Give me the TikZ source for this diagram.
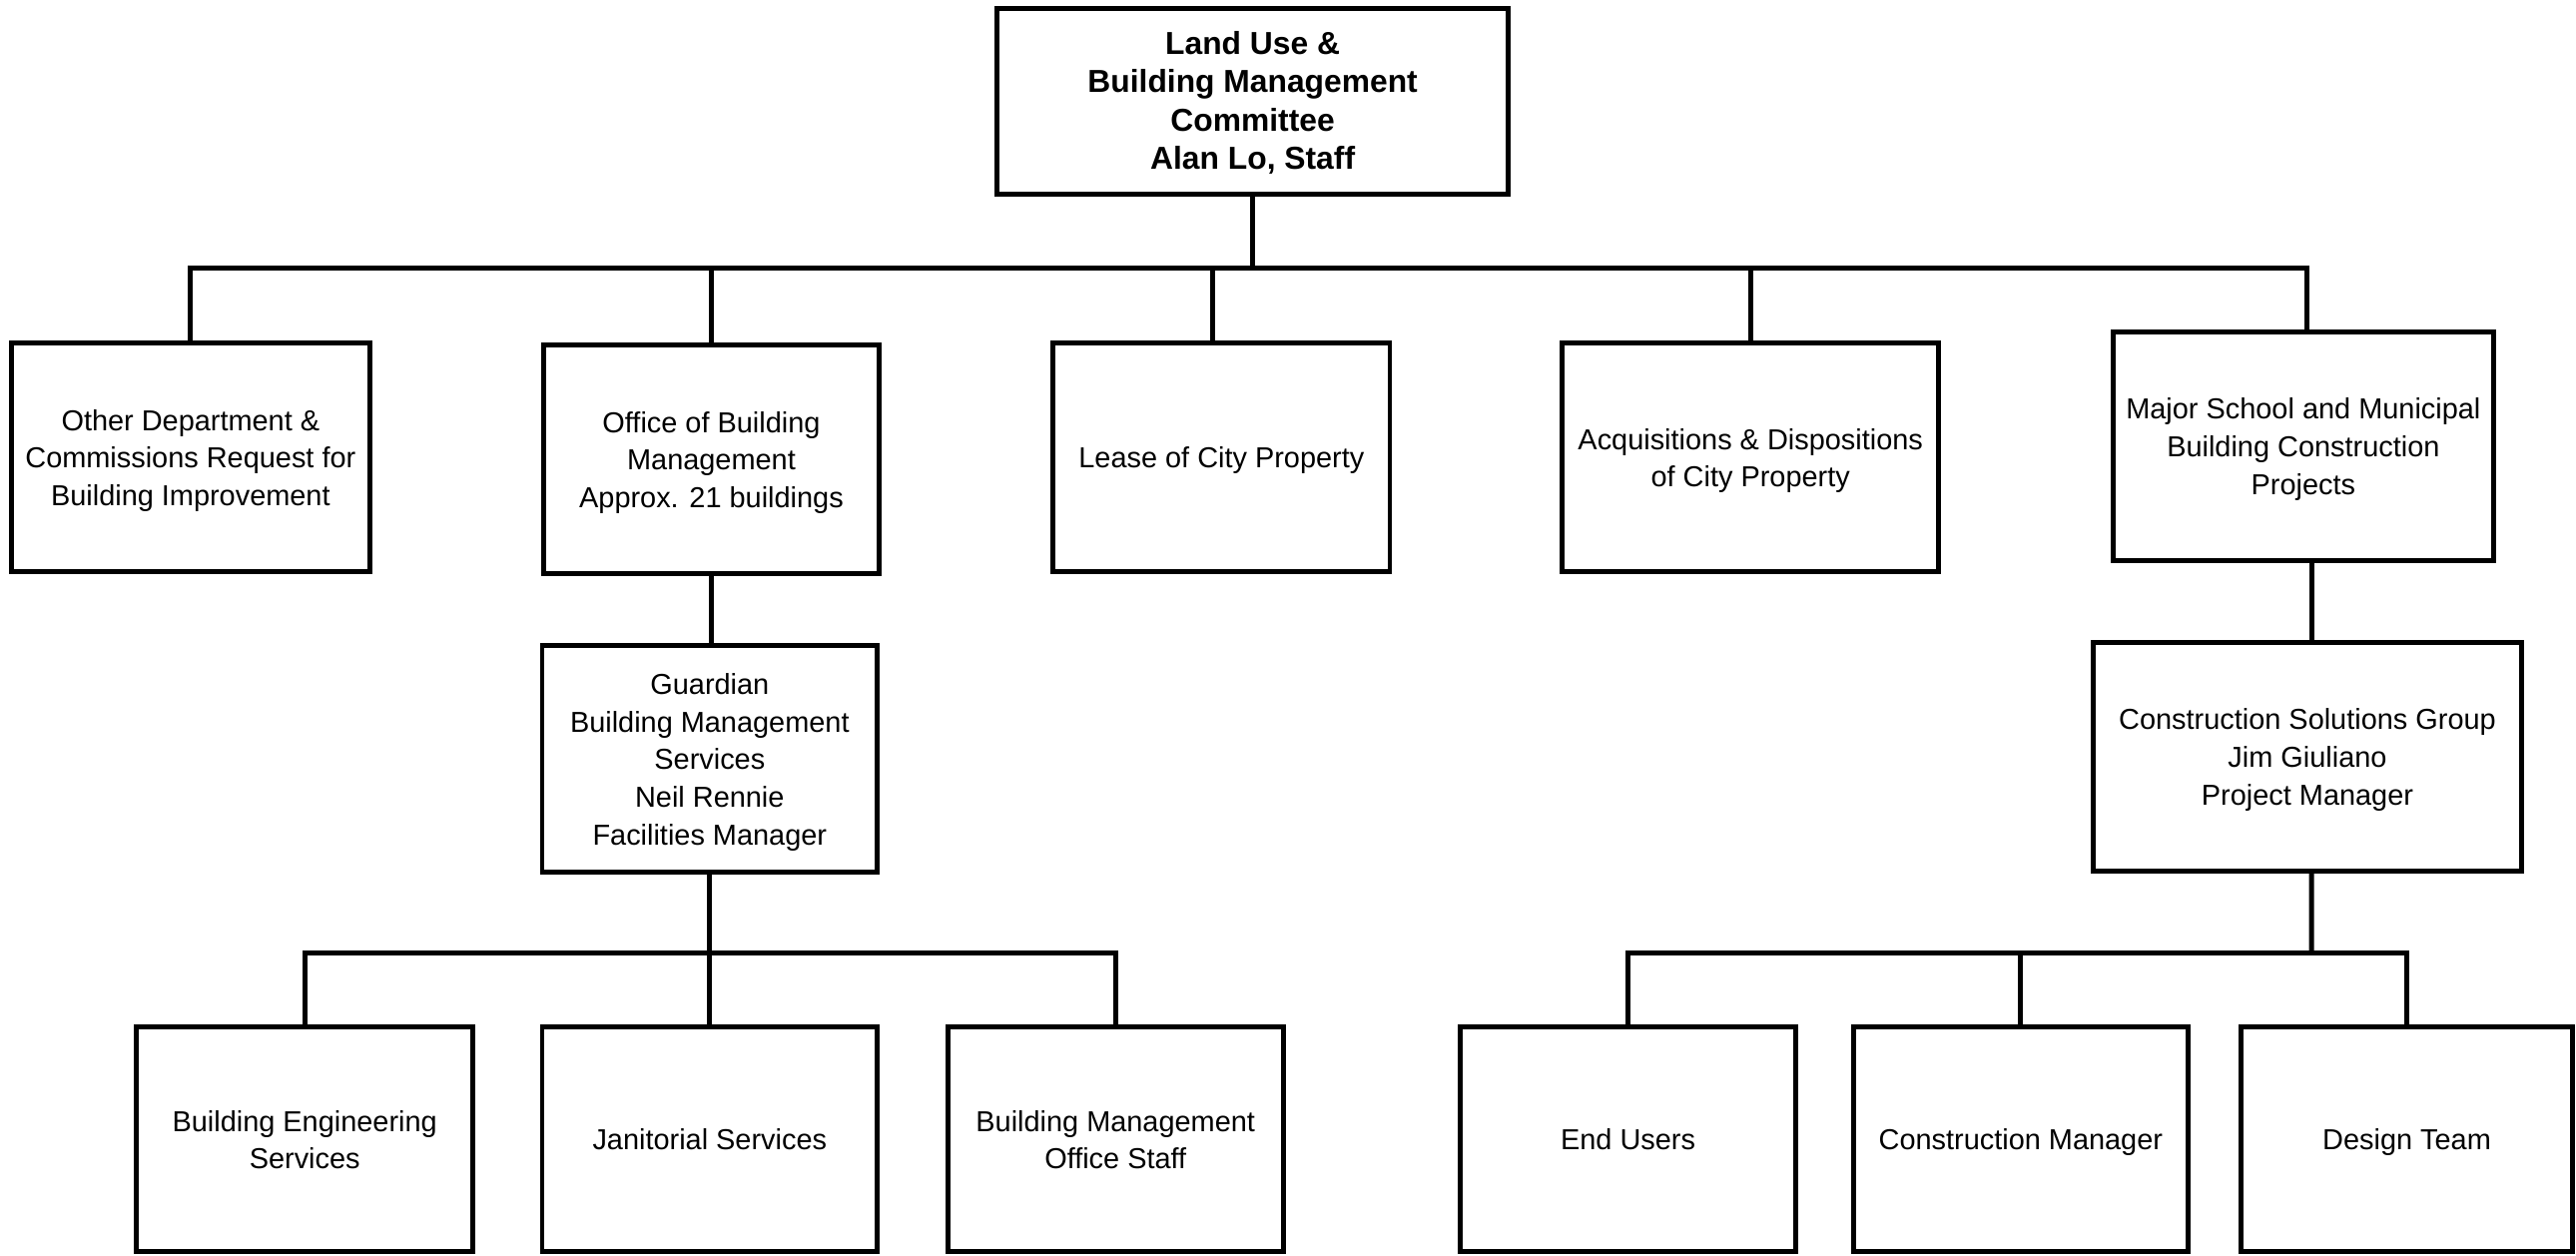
\documentclass[tikz,border=0pt]{standalone}
\usepackage{fontspec}
\setmainfont{Liberation Sans}
\newcommand\boxtext[1]{\raisebox{-1.1pt}[\height][\depth]{\begin{tabular}{@{}c@{}}#1\end{tabular}}}
\begin{document}
\begin{tikzpicture}[x=0.02cm,y=-0.02cm,
  line width=1.7pt,
  orgbox/.style={draw=black, line width=1.7pt, align=center, inner sep=0pt,
    font=\fontsize{10}{13}\selectfont},
  headbox/.style={orgbox, font=\fontsize{11}{13.2}\selectfont\bfseries},
  link/.style={draw=black, line width=1.7pt}]
\useasboundingbox (0,0) rectangle (1568,764);
\fill[white] (0,0) rectangle (1568,764);

\node[headbox, minimum width=6.22cm, minimum height=2.26cm] (top) at (762.5,61.5)
  {\boxtext{Land Use \&\\Building Management\\Committee\\Alan Lo, Staff}};

\node[orgbox, minimum width=4.36cm, minimum height=2.78cm] (A) at (116,278.5)
  {\boxtext{Other Department \&\\Commissions Request for\\Building Improvement}};
\node[orgbox, minimum width=4.08cm, minimum height=2.78cm] (B) at (433,279.5)
  {\boxtext{Office of Building\\Management\\Approx. 21 buildings}};
\node[orgbox, minimum width=4.10cm, minimum height=2.78cm] (C) at (743.5,278.5)
  {\boxtext{Lease of City Property}};
\node[orgbox, minimum width=4.58cm, minimum height=2.78cm] (D) at (1065.5,278.5)
  {\boxtext{Acquisitions \& Dispositions\\of City Property}};
\node[orgbox, minimum width=4.64cm, minimum height=2.78cm] (E) at (1402,271.5)
  {\boxtext{Major School and Municipal\\Building Construction\\Projects}};

\node[orgbox, minimum width=4.08cm, minimum height=2.76cm] (G) at (432,462)
  {\boxtext{Guardian\\Building Management\\Services\\Neil Rennie\\Facilities Manager}};
\node[orgbox, minimum width=5.22cm, minimum height=2.78cm] (CSG) at (1404.5,460.5)
  {\boxtext{Construction Solutions Group\\Jim Giuliano\\Project Manager}};

\node[orgbox, minimum width=4.10cm, minimum height=2.74cm] (L1) at (185.5,693.5)
  {\boxtext{Building Engineering\\Services}};
\node[orgbox, minimum width=4.08cm, minimum height=2.74cm] (L2) at (432,693.5)
  {\boxtext{Janitorial Services}};
\node[orgbox, minimum width=4.08cm, minimum height=2.74cm] (L3) at (679,693.5)
  {\boxtext{Building Management\\Office Staff}};

\node[orgbox, minimum width=4.08cm, minimum height=2.74cm] (R1) at (991,693.5)
  {\boxtext{End Users}};
\node[orgbox, minimum width=4.08cm, minimum height=2.74cm] (R2) at (1230,693.5)
  {\boxtext{Construction Manager}};
\node[orgbox, minimum width=4.04cm, minimum height=2.74cm] (R3) at (1465,693.5)
  {\boxtext{Design Team}};

% top level bus
\coordinate (h1) at (762.5,163);
\draw[link] (top.south) -- (h1);
\draw[link] (h1) -| (A.north);
\draw[link] (h1) -| (B.north);
\draw[link] (h1) -| ([xshift=-0.11cm]C.north);
\draw[link] (h1) -| (D.north);
\draw[link] (h1) -| ([xshift=0.04cm]E.north);

% second level
\draw[link] (B.south) -- (B.south |- G.north);
\draw[link] ([xshift=0.1cm]E.south) -- ([xshift=0.1cm]E.south |- CSG.north);

% left bus
\coordinate (h2) at (432,580);
\draw[link] (G.south) -- (h2);
\draw[link] (h2) -| (L1.north);
\draw[link] (h2) -| (L2.north);
\draw[link] (h2) -| (L3.north);

% right bus
\coordinate (h3) at (1407,580);
\draw[link] ([xshift=0.05cm]CSG.south) -- (h3);
\draw[link] (h3) -| (R1.north);
\draw[link] (h3) -| (R2.north);
\draw[link] (h3) -| (R3.north);
\end{tikzpicture}
\end{document}
